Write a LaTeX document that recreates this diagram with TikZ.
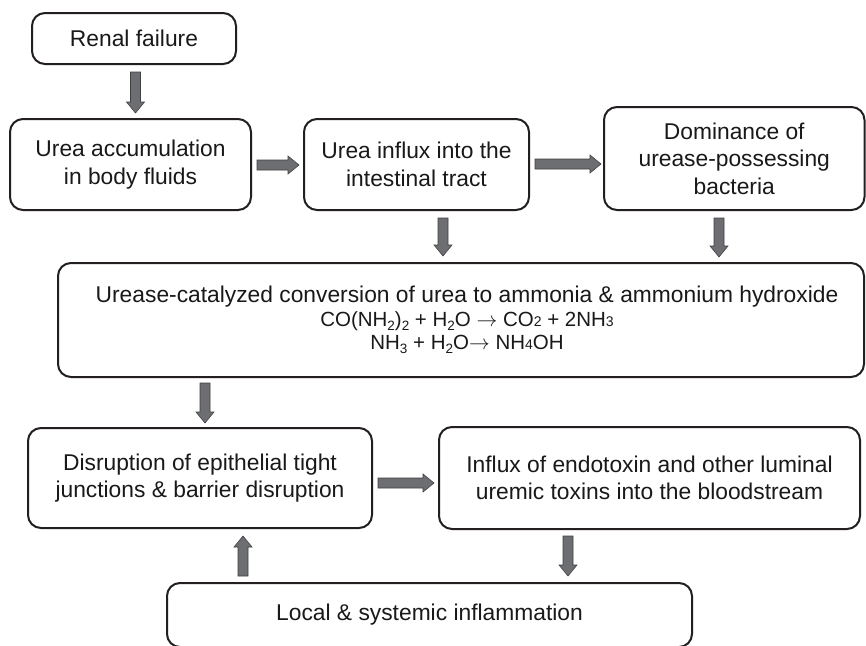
\documentclass[tikz,border=0pt]{standalone}
\usepackage{fontspec}
\setmainfont{Liberation Sans}
\usetikzlibrary{calc}
\definecolor{boxline}{HTML}{231F20}
\definecolor{arrfill}{HTML}{6D6E71}
\definecolor{arrline}{HTML}{414042}
\newcommand\lowsub[1]{\raisebox{-4pt}{\fontsize{13.5}{13.5}\selectfont #1}}
\newcommand\smallnum[1]{{\fontsize{14}{14}\selectfont #1}}
\newcommand\blockarrow[2]{%
  \path ($(#2)!11pt!(#1)$) coordinate (tmpH);
  \filldraw[blockarr] ($(#1)!5pt!90:(#2)$) -- ($(tmpH)!5pt!-90:(#1)$) -- ($(tmpH)!9pt!-90:(#1)$) -- (#2)
    -- ($(tmpH)!9pt!90:(#1)$) -- ($(tmpH)!5pt!90:(#1)$) -- ($(#1)!5pt!-90:(#2)$) -- cycle;}
\tikzset{
  box/.style={draw=boxline, line width=2pt, rounded corners=13pt, align=center,
    font=\fontsize{22.8}{27.5}\selectfont, inner sep=0pt, text=black!90},
  blockarr/.style={fill=arrfill, draw=arrline, line width=0.6pt, line join=miter},
}
\begin{document}
\begin{tikzpicture}[x=1pt,y=-1pt]
\useasboundingbox (0,0) rectangle (866,645);
\fill[white] (0,0) rectangle (866,645);

\node[box, minimum width=204pt, minimum height=51pt] (ren) at (134,38.5) {Renal failure};
\node[box, minimum width=241pt, minimum height=91pt] (acc) at (130.5,164.5) {Urea accumulation\\in body fluids};
\node[box, minimum width=225pt, minimum height=91pt] (inf) at (416.5,164.5) {Urea influx into the\\intestinal tract};
\node[box, minimum width=260.5pt, minimum height=103pt] (dom) at (734.25,158.5) {Dominance of\\urease-possessing\\bacteria};
\node[box, minimum width=806pt, minimum height=114pt] (ure) at (461,320) {\hspace*{12pt}Urease-catalyzed conversion of urea to ammonia \& ammonium hydroxide\\[-3.5pt]
  {\fontsize{20.5}{22}\selectfont \hspace*{12pt}CO(NH\lowsub{2})\lowsub{2} + H\lowsub{2}O $\rightarrow$ CO\smallnum{2} + 2NH\smallnum{3}}\\[-4.5pt]
  {\fontsize{20.5}{22}\selectfont \hspace*{12pt}NH\lowsub{3} + H\lowsub{2}O$\rightarrow$ NH\smallnum{4}OH}};
\node[box, minimum width=344pt, minimum height=100pt] (dis) at (200,478) {Disruption of epithelial tight\\junctions \& barrier disruption};
\node[box, minimum width=421pt, minimum height=102pt] (tox) at (649.5,478) {Influx of endotoxin and other luminal\\uremic toxins into the bloodstream};
\node[box, minimum width=525pt, minimum height=64pt] (loc) at (429.5,615) {Local \& systemic inflammation};

\coordinate (a1s) at ($(ren.south)+(1.5,7)$);
\coordinate (a1e) at ($(acc.north)+(5,-5)$);
\coordinate (a2s) at ($(acc.east)+(5,0.5)$);
\coordinate (a2e) at ($(inf.west)+(-4,0.5)$);
\coordinate (a3s) at ($(inf.east)+(5,-0.5)$);
\coordinate (a3e) at ($(dom.west)+(-2,5.5)$);
\coordinate (a4s) at ($(inf.south)+(26.5,7)$);
\coordinate (a4e) at ($(ure.north)+(-18,-6)$);
\coordinate (a5s) at ($(dom.south)+(-15.25,7)$);
\coordinate (a5e) at ($(ure.north)+(258,-5)$);
\coordinate (a6s) at ($(ure.south)+(-256,5)$);
\coordinate (a6e) at ($(dis.north)+(5,-4)$);
\coordinate (a7s) at ($(dis.east)+(5,5)$);
\coordinate (a7e) at ($(tox.west)+(-4,5)$);
\coordinate (a8s) at ($(tox.south)+(-81.5,6)$);
\coordinate (a8e) at ($(loc.north)+(138.5,-6)$);
\coordinate (a9s) at ($(loc.north)+(-186.5,-6)$);
\coordinate (a9e) at ($(dis.south)+(43,7)$);

\blockarrow{a1s}{a1e}
\blockarrow{a2s}{a2e}
\blockarrow{a3s}{a3e}
\blockarrow{a4s}{a4e}
\blockarrow{a5s}{a5e}
\blockarrow{a6s}{a6e}
\blockarrow{a7s}{a7e}
\blockarrow{a8s}{a8e}
\blockarrow{a9s}{a9e}
\end{tikzpicture}
\end{document}
